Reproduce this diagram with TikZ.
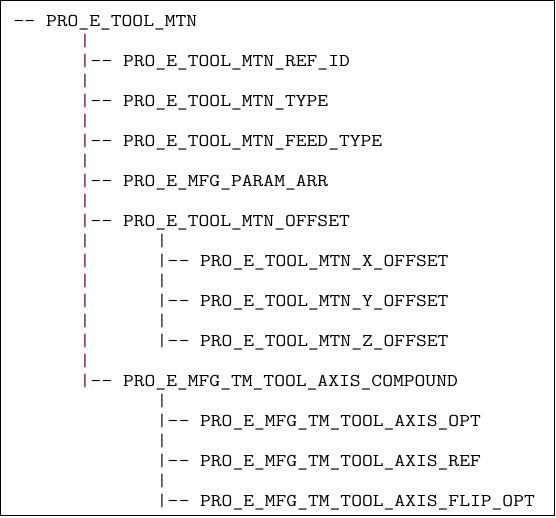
\documentclass[tikz,border=0pt]{standalone}
\usepackage{fontspec}
\definecolor{barpurple}{HTML}{6E106E}
\newcommand{\wide}[1]{\scalebox{1.165}[1]{#1}}
\begin{document}
\begin{tikzpicture}[x=1pt,y=-1pt,
  txt/.style={anchor=base west, inner sep=0pt, font=\fontsize{18}{20}\selectfont\ttfamily, text=black},
  barA/.style={txt, text=barpurple},
  barB/.style={txt, text=black!85}]
\useasboundingbox (0,0) rectangle (556,517);
\draw[line width=1.3pt] (0.8,0.8) rectangle (554.6,515.6);
% columns: c -> 13.5 + 11c ; rows: r -> 26 + 20(r-1)
\node[txt] (root) at (13.5,26) {\wide{-- PRO\_E\_TOOL\_MTN}};
% first-level bars (column 6)
\foreach \r in {2,...,19} {
  \node[barA] (a\r) at (79.5,{26+20*(\r-1)}) {\wide{|}};
}
% first-level items (column 7)
\node[txt] (ref)   at (90.5,66)  {\wide{-- PRO\_E\_TOOL\_MTN\_REF\_ID}};
\node[txt] (type)  at (90.5,106) {\wide{-- PRO\_E\_TOOL\_MTN\_TYPE}};
\node[txt] (feed)  at (90.5,146) {\wide{-- PRO\_E\_TOOL\_MTN\_FEED\_TYPE}};
\node[txt] (param) at (90.5,186) {\wide{-- PRO\_E\_MFG\_PARAM\_ARR}};
\node[txt] (off)   at (90.5,226) {\wide{-- PRO\_E\_TOOL\_MTN\_OFFSET}};
\node[txt] (comp)  at (90.5,386) {\wide{-- PRO\_E\_MFG\_TM\_TOOL\_AXIS\_COMPOUND}};
% second-level bars (column 13)
\foreach \r in {12,...,17} {
  \node[barB] (b\r) at (156.5,{26+20*(\r-1)}) {\wide{|}};
}
\foreach \r in {20,...,25} {
  \node[barB] (c\r) at (156.5,{26+20*(\r-1)}) {\wide{|}};
}
% second-level items (column 14)
\node[txt] (xoff) at (167.5,266) {\wide{-- PRO\_E\_TOOL\_MTN\_X\_OFFSET}};
\node[txt] (yoff) at (167.5,306) {\wide{-- PRO\_E\_TOOL\_MTN\_Y\_OFFSET}};
\node[txt] (zoff) at (167.5,346) {\wide{-- PRO\_E\_TOOL\_MTN\_Z\_OFFSET}};
\node[txt] (opt)  at (167.5,426) {\wide{-- PRO\_E\_MFG\_TM\_TOOL\_AXIS\_OPT}};
\node[txt] (aref) at (167.5,466) {\wide{-- PRO\_E\_MFG\_TM\_TOOL\_AXIS\_REF}};
\node[txt] (flip) at (167.5,506) {\wide{-- PRO\_E\_MFG\_TM\_TOOL\_AXIS\_FLIP\_OPT}};
\end{tikzpicture}
\end{document}
